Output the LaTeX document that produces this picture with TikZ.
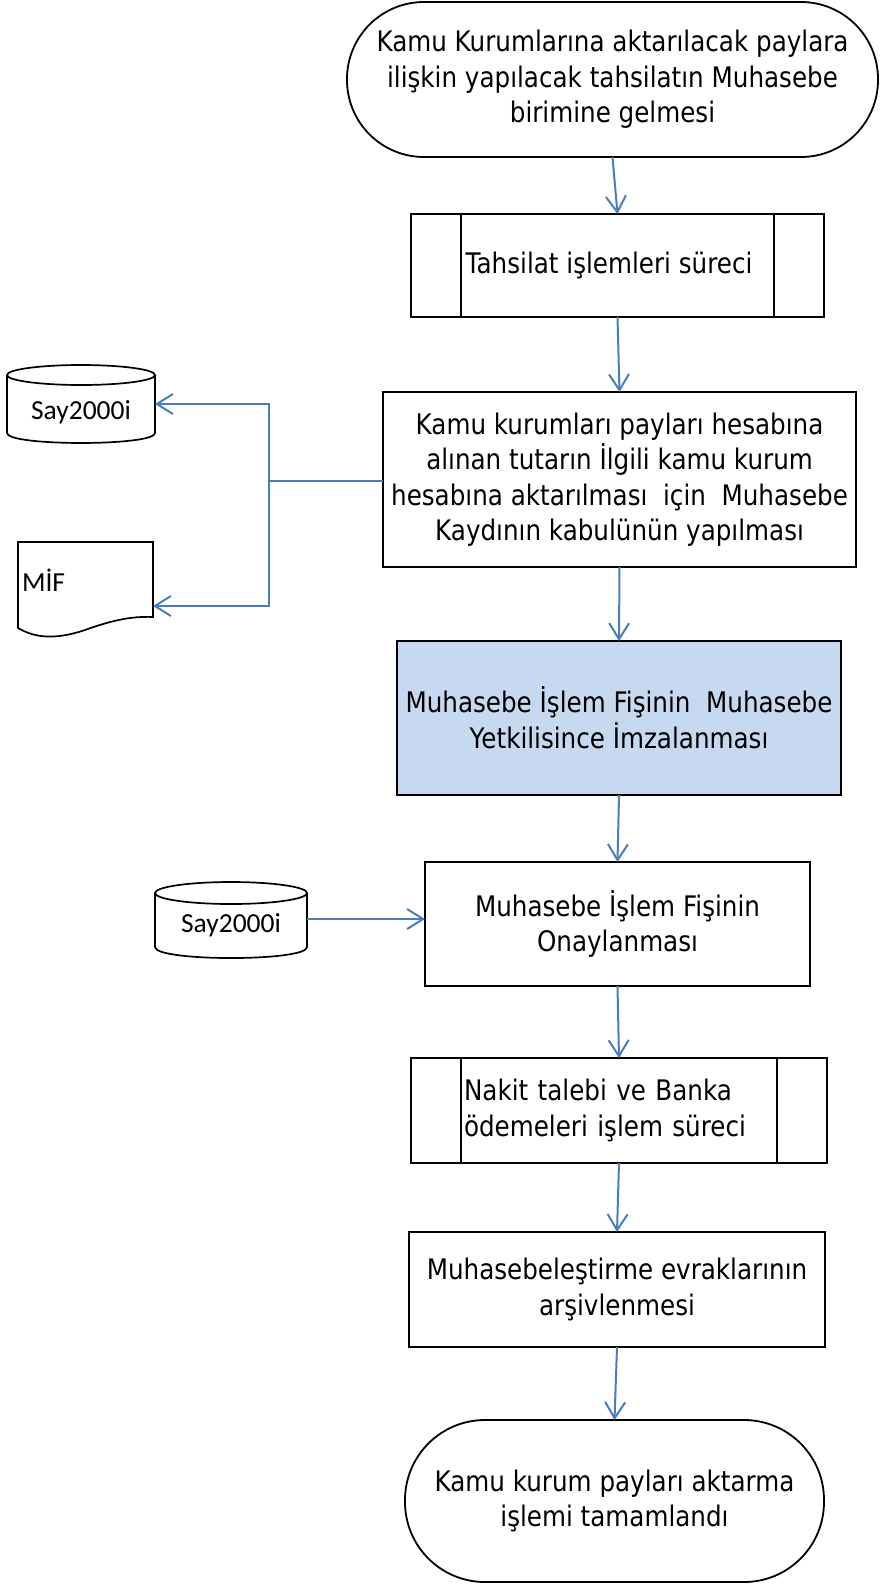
\documentclass[tikz,border=0pt]{standalone}
\usepackage{fontspec}
\setmainfont{DejaVu Sans}[FakeStretch=0.87]
\newfontfamily\calfont{Carlito}
\usetikzlibrary{arrows.meta}
\definecolor{arrowblue}{RGB}{74,126,187}
\definecolor{boxblue}{RGB}{198,217,241}
\begin{document}
\begin{tikzpicture}[x=1pt,y=-1pt,
  every node/.style={font=\fontsize{28.3}{35.5}\selectfont, inner sep=0pt, outer sep=0pt},
  box/.style={draw=black, line width=1.8pt, rectangle, align=center},
  term/.style={box},
  flow/.style={draw=arrowblue, line width=2pt, -{Straight Barb[length=16pt,width=20pt,line width=2pt]}},
  blueline/.style={draw=arrowblue, line width=2pt},
  store/.style={draw=black, line width=1.7pt},
  ghost/.style={rectangle, draw=none},
  small/.style={font=\calfont\fontsize{27.5}{32}\selectfont}]
\fill[white] (0,0) rectangle (879,1585);
\useasboundingbox (0,0) rectangle (879,1585);

% main column
\node[term, rounded corners=77pt, minimum width=531pt, minimum height=155pt] (start) at (612.5,79.5)
  {Kamu Kurumlarına aktarılacak paylara\\ilişkin yapılacak tahsilatın Muhasebe\\birimine gelmesi};
\node[box, minimum width=413pt, minimum height=103pt] (p1) at (617.5,265.5)
  {\hspace*{-17pt}Tahsilat işlemleri süreci};
\draw[line width=1.8pt] ([xshift=50pt]p1.north west) -- ([xshift=50pt]p1.south west);
\draw[line width=1.8pt] ([xshift=-50pt]p1.north east) -- ([xshift=-50pt]p1.south east);
\node[box, minimum width=473pt, minimum height=175pt] (b5) at (619.5,479.5)
  {Kamu kurumları payları hesabına\\alınan tutarın İlgili kamu kurum\\hesabına aktarılması\ \ için\ \ Muhasebe\\Kaydının kabulünün yapılması};
\node[box, fill=boxblue, minimum width=444pt, minimum height=154pt] (sign) at (619,718)
  {Muhasebe İşlem Fişinin\ \ Muhasebe\\Yetkilisince İmzalanması};
\node[box, minimum width=385pt, minimum height=124pt] (b7) at (617.5,924)
  {Muhasebe İşlem Fişinin\\Onaylanması};
\node[box, minimum width=416pt, minimum height=105pt, text width=310pt, align=left] (p2) at (619,1110.5)
  {Nakit talebi ve Banka\\ödemeleri işlem süreci};
\draw[line width=1.8pt] ([xshift=50pt]p2.north west) -- ([xshift=50pt]p2.south west);
\draw[line width=1.8pt] ([xshift=-50pt]p2.north east) -- ([xshift=-50pt]p2.south east);
\node[box, minimum width=416pt, minimum height=115pt] (b8) at (617,1289.5)
  {Muhasebeleştirme evraklarının\\arşivlenmesi};
\node[term, rounded corners=80pt, minimum width=419pt, minimum height=162pt] (end) at (614.5,1501)
  {Kamu kurum payları aktarma\\işlemi tamamlandı};

% cylinder 1
\node[ghost, minimum width=148pt, minimum height=78pt] (cyl1) at (81,404) {};
\draw[store] (81,375) ellipse [x radius=74, y radius=10];
\draw[store] (7,375) -- (7,433) .. controls (7,446.3) and (155,446.3) .. (155,433) -- (155,375);
\node[small] (cyl1t) at (81,412) {Say2000i};

% document MIF
\node[ghost, minimum width=135pt, minimum height=75pt] (mif) at (85.5,579.5) {};
\draw[store] (18,628) -- (18,542) -- (153,542) -- (153,617)
  .. controls (130,616) and (110,621) .. (85,630)
  .. controls (55,640) and (35,638) .. (18,628) -- cycle;
\node[small, anchor=west] (mift) at (22,580) {MİF};
\coordinate (mifin) at (153,606);

% cylinder 2
\node[ghost, minimum width=152pt, minimum height=76pt] (cyl2) at (231,919) {};
\draw[store] (231,893) ellipse [x radius=76, y radius=11];
\draw[store] (155,893) -- (155,947) .. controls (155,961.7) and (307,961.7) .. (307,947) -- (307,893);
\node[small] (cyl2t) at (231,925) {Say2000i};

% flow arrows
\draw[flow] (start.south) -- (p1.north);
\draw[flow] (p1.south) -- (b5.north);
\draw[flow] (b5.south) -- (sign.north);
\draw[flow] (sign.south) -- (b7.north);
\draw[flow] (b7.south) -- (p2.north);
\draw[flow] (p2.south) -- (b8.north);
\draw[flow] (b8.south) -- (end.north);
\draw[flow] (cyl2.east) -- (cyl2.east -| b7.west);

\coordinate (jn) at (269,481);
\draw[blueline] (jn) -- (jn -| b5.west);
\draw[flow] (jn) |- (cyl1.east);
\draw[flow] (jn) |- (mifin);
\end{tikzpicture}
\end{document}
